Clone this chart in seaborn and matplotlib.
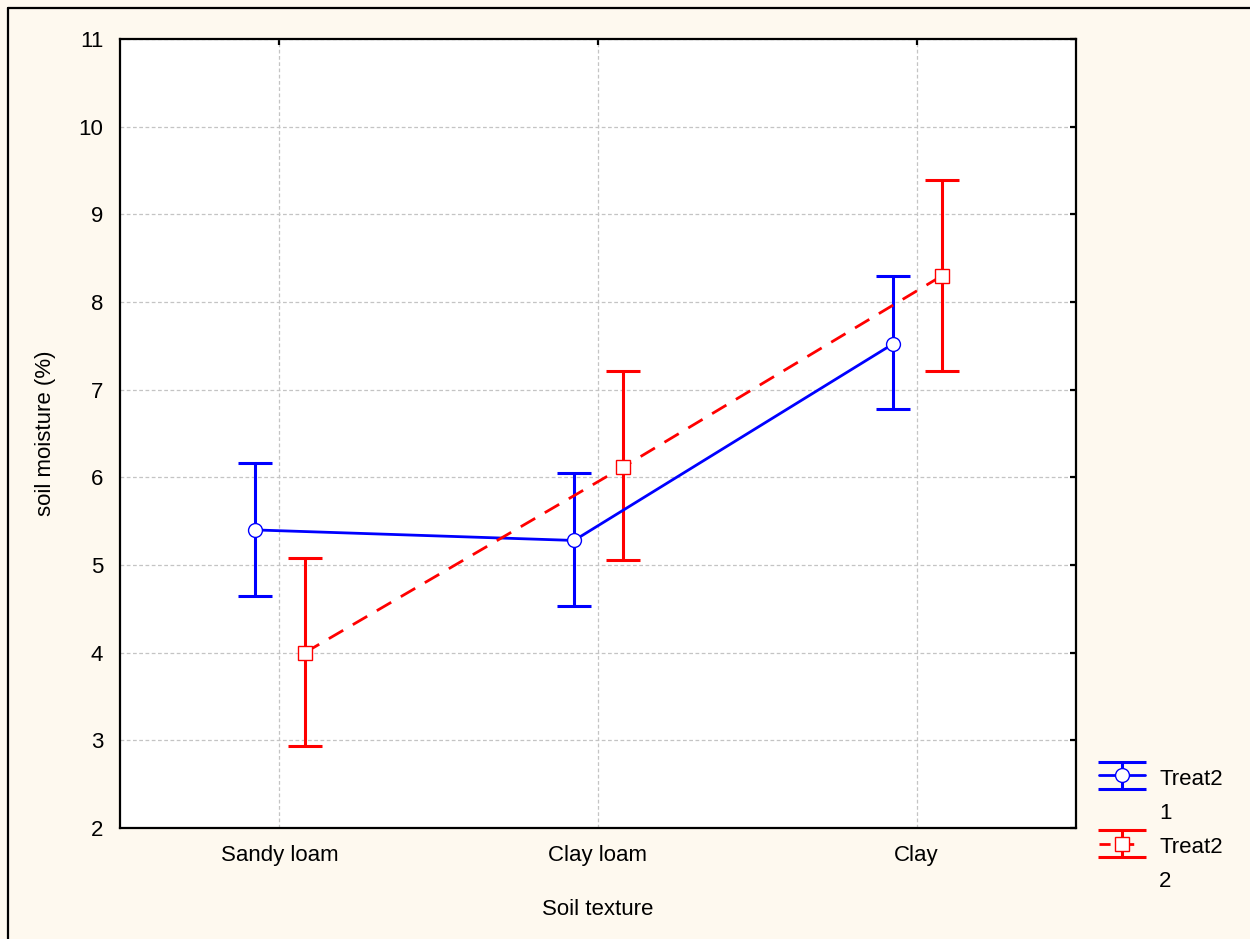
import numpy as np
import pandas as pd
import matplotlib
matplotlib.use("Agg")
import matplotlib.pyplot as plt
from matplotlib.lines import Line2D
from matplotlib.container import ErrorbarContainer
from matplotlib.legend_handler import HandlerErrorbar, HandlerTuple
import seaborn as sns

# Mean soil moisture (%) with error-bar limits, by soil texture and treatment
textures = ["Sandy loam", "Clay loam", "Clay"]
treat_levels = ["1", "2"]
mean_t1 = [5.40, 5.28, 7.52]
upper_t1 = [6.16, 6.05, 8.30]
lower_t1 = [4.65, 4.53, 6.78]
mean_t2 = [4.00, 6.12, 8.30]
upper_t2 = [5.08, 7.21, 9.39]
lower_t2 = [2.94, 5.06, 7.21]
y_ticks = [2, 3, 4, 5, 6, 7, 8, 9, 10, 11]

BG = "#FEF9EF"
colors = {"1": "#0000FF", "2": "#FF0000"}
markers = {"1": "o", "2": "s"}
dashes = {"1": "", "2": (6, 4)}
dodge = {"1": -0.075, "2": 0.080}

sns.set_theme(style="white")
plt.rcParams["font.family"] = ["Liberation Sans", "DejaVu Sans"]
plt.rcParams["font.size"] = 16
plt.rcParams["text.color"] = "black"
plt.rcParams["axes.labelcolor"] = "black"
plt.rcParams["xtick.color"] = "black"
plt.rcParams["ytick.color"] = "black"


class WideCapErrorbar(HandlerErrorbar):
    """Error-bar legend key whose caps span the whole key width."""

    def __init__(self, cap_size=34, **kw):
        super().__init__(**kw)
        self._cap_size = cap_size

    def create_artists(self, *args, **kwargs):
        artists = super().create_artists(*args, **kwargs)
        for a in artists:
            if isinstance(a, Line2D) and a.get_marker() == "_":
                a.set_markersize(self._cap_size)
        return artists


fig = plt.figure(figsize=(12.5, 9.39), dpi=100, facecolor=BG)
ax = fig.add_axes([0.096, 0.1182, 0.7648, 0.8403])
ax.set_facecolor("white")

means = {"1": mean_t1, "2": mean_t2}
uppers = {"1": upper_t1, "2": upper_t2}
lowers = {"1": lower_t1, "2": lower_t2}

rows = []
for t in treat_levels:
    for i, tex in enumerate(textures):
        rows.append({"pos": i + dodge[t], "moisture": means[t][i], "Treat2": t})
df = pd.DataFrame(rows)

# Error bars behind the markers
err_containers = {}
for t in treat_levels:
    pos = np.arange(len(textures)) + dodge[t]
    m = np.array(means[t])
    err = np.vstack([m - np.array(lowers[t]), np.array(uppers[t]) - m])
    err_containers[t] = ax.errorbar(pos, m, yerr=err, fmt="none", ecolor=colors[t],
                                    elinewidth=2.2, capsize=12, capthick=2.2, zorder=2)

n_before = len(ax.lines)
sns.lineplot(data=df, x="pos", y="moisture", hue="Treat2", style="Treat2",
             palette=colors, markers=markers, dashes=dashes,
             hue_order=treat_levels, style_order=treat_levels,
             linewidth=2.0, markersize=10, legend=False, ax=ax, zorder=3)

for line in ax.lines[n_before:]:
    c = line.get_color()
    line.set_markerfacecolor("white")
    line.set_markeredgecolor(c)
    line.set_markeredgewidth(1.0)
    if line.get_linestyle() != "-":
        line.set_zorder(4)

ax.set_xlim(-0.5, 2.5)
ax.set_ylim(2, 11)
ax.set_xticks(range(len(textures)))
ax.set_xticklabels(textures)
ax.set_yticks(y_ticks)
ax.set_xlabel("Soil texture", fontsize=16, labelpad=24)
ax.set_ylabel("soil moisture (%)", fontsize=16, labelpad=16)

ax.grid(True, color="#C4C4C4", linestyle=(0, (3, 2)), linewidth=0.9)
ax.set_axisbelow(True)
for sp in ax.spines.values():
    sp.set_visible(True)
    sp.set_color("black")
    sp.set_linewidth(1.6)
ax.tick_params(direction="in", top=True, right=True, length=4, width=1.6,
               colors="black", labelsize=16)
ax.tick_params(axis="y", pad=12)
ax.tick_params(axis="x", pad=12)

# Legend keys: error bar plus line/marker of each series
handles, labels = [], []
blank = Line2D([], [], linestyle="none")
for t in treat_levels:
    key_line = Line2D([], [], color=colors[t], marker=markers[t], markersize=10,
                      markerfacecolor="white", markeredgecolor=colors[t],
                      markeredgewidth=1.0, linewidth=2.0,
                      linestyle="-" if t == "1" else (0, (4, 4.5)))
    handles += [(err_containers[t], key_line), blank]
    labels += ["Treat2", t]

ax.legend(handles, labels, loc="center left",
          bbox_to_anchor=(0.870, 1 - 829 / 939), bbox_transform=fig.transFigure,
          frameon=False, fontsize=16, handlelength=2.1, handletextpad=0.63,
          handleheight=1.3, labelspacing=0.43, borderpad=0, numpoints=1,
          handler_map={ErrorbarContainer: WideCapErrorbar(cap_size=34, yerr_size=0.6),
                       tuple: HandlerTuple(ndivide=1, pad=0)})

# Figure frame
fig.add_artist(Line2D([8 / 1250, 8 / 1250], [0, 1 - 8 / 939],
                      transform=fig.transFigure, color="black", linewidth=1.6))
fig.add_artist(Line2D([8 / 1250, 1], [1 - 8 / 939, 1 - 8 / 939],
                      transform=fig.transFigure, color="black", linewidth=1.6))

fig.savefig("out.png", dpi=100, facecolor=BG)
